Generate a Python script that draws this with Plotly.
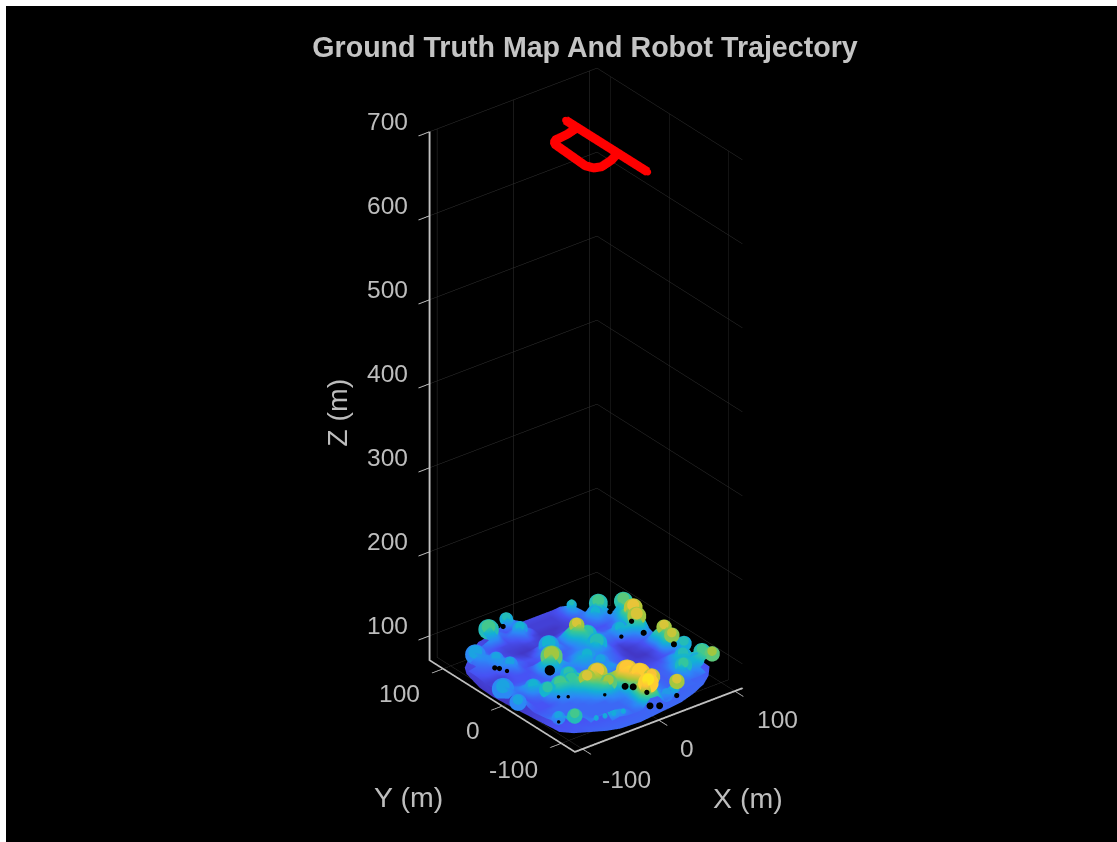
import plotly.graph_objects as go

N = None
grid_x = [-110,-100,-90,-80,-70,-60,-50,-40,-30,-20,-10,0,10,20,30,40,50,60,70,80,90,100,110]
grid_y = [120,110,100,90,80,70,60,50,40,30,20,10,0,-10,-20,-30,-40,-50,-60,-70,-80,-90,-100,-110,-120]
grid_z = [
 [N,N,N,N,N,N,N,N,78,80,90,82,77,77,77,77,77,78,N,N,N,N,N],
 [N,N,N,N,N,N,88,93,82,78,80,77,76,76,76,76,78,84,N,N,N,N,N],
 [N,N,N,N,80,80,84,85,78,82,88,82,76,76,76,76,78,88,80,N,N,N,N],
 [N,N,N,86,82,79,78,77,77,78,82,77,75,75,75,76,77,80,82,91,N,N,N],
 [N,N,80,85,83,78,77,76,76,76,77,76,75,75,76,76,77,80,88,92,84,N,N],
 [N,78,80,82,84,82,77,76,75,75,76,76,77,78,80,78,77,79,84,82,84,93,N],
 [N,78,79,80,85,84,79,77,76,78,84,82,80,90,95,86,79,78,78,80,88,92,N],
 [N,77,78,78,83,85,80,78,78,82,87,84,80,92,99,88,82,79,79,82,96,98,N],
 [N,76,76,76,78,82,78,77,78,80,80,79,80,86,92,90,82,82,86,86,96,99,N],
 [N,76,76,77,78,78,78,84,88,85,79,80,82,84,90,86,80,80,87,90,100,92,N],
 [N,78,78,78,78,78,79,91,97,90,80,84,86,83,89,84,78,76,78,82,90,82,N],
 [N,86,82,80,80,79,79,84,88,82,84,87,88,84,82,80,77,75,76,78,80,80,N],
 [N,84,81,85,86,80,79,80,82,81,82,85,85,82,81,79,76,75,76,78,92,96,N],
 [N,78,78,86,88,84,82,88,91,84,81,82,83,84,80,78,76,75,75,77,90,99,N],
 [N,85,78,80,82,90,92,92,92,88,84,82,84,85,80,78,76,76,76,78,94,92,N],
 [N,80,78,78,84,92,93,92,94,92,86,83,82,80,79,78,77,77,77,78,80,88,N],
 [N,78,78,78,80,84,86,92,100,101,94,90,84,80,79,78,78,78,79,84,84,80,N],
 [N,79,79,80,80,80,82,86,94,97,94,98,100,92,82,79,79,79,82,88,90,84,N],
 [N,80,80,80,80,80,80,82,88,96,94,103,105,96,84,80,79,80,86,88,88,92,N],
 [N,82,84,80,80,80,80,80,80,84,84,98,106,101,86,80,79,80,92,88,88,94,N],
 [N,80,86,86,81,80,80,80,80,80,82,92,100,92,82,80,79,80,84,82,84,96,N],
 [N,N,84,92,82,80,80,80,80,80,82,102,96,86,82,80,80,80,80,80,82,N,N],
 [N,N,N,N,81,86,87,87,84,80,84,108,102,84,84,96,80,80,80,N,N,N,N],
 [N,N,N,N,N,N,80,82,80,80,80,88,88,80,82,86,N,N,N,N,N,N,N],
 [N,N,N,N,N,N,N,N,N,N,N,N,N,N,N,N,N,N,N,N,N,N,N],
]

rim_x = [-94,-101,-108,-109,-107,-104,-102,-100,-90,-78,-60,-46,-20,1,38,60,80,95,108,109,108,106,106,105,100,90,82,70,59,30,0,-30,-50,-74]
rim_y = [84,72,40,17,-10,-39,-60,-84,-95,-102,-112,-117,-119,-116,-112,-105,-96,-85,-70,-50,-20,0,30,50,65,85,95,105,120,122,122,122,118,101]
rim_z = [74]*34
rim_level = [77,76,75,75,75,76,77,78,79,79,80,80,80,80,80,80,80,79,78,78,78,77,76,76,76,76,76,76,76,76,76,76,77,78]

crown_x = [61,-11,-42,-78,-10,-67,-62,-8,-30,28,35,32,82,104,96,89,97,94,103,72,71,87,105,104,72,94,-18,-32,-17,7,12,4,37,-100,-105,-75,-55,-40,-70,-33,-92,-84,-65,-55,-45,-34,9,15,27,20]
crown_y = [103,121,111,87,99,66,49,53,20,52,43,23,85,71,44,29,-7,-24,-33,77,34,-52,-78,-62,-72,-66,-42,-43,-60,-60,-75,-100,-106,12,-20,-7,-27,-27,-25,-13,-72,-89,-101,-103,-105,-107,10,-5,-101,-85]
crown_z = [90,90,93,86,88,86,86,88,97,100,91,90,93,94,101,100,100,99,90,88,88,90,97,93,92,88,101,100,97,103,104,108,100,86,86,88,93,92,91,91,86,93,87,87,87,87,88,86,85,102]
crown_size = [3.5,5,8,8,5.5,5.5,5.5,8,9,5.5,7,8,7,7,7,7,5.5,5.5,5.5,5.5,6,6,5.5,6,6,5.5,8,6,6,9,9,7,5.5,8,6,6,7,7,6,6,5,5.5,2.5,2.5,2.5,2.5,6,6,5,6]
skirt_z = [87,87,90,83,85,83,83,85,94,97,88,87,90,91,98,97,97,96,87,85,85,87,94,90,89,85,98,97,94,100,101,104,97,83,83,85,90,89,88,88,83,90,86,86,86,86,85,83,82,99]
skirt_size = [6,8,12,12,9,9,9,12,13,9,11,12,11,11,11,11,9,9,9,9,10,10,9,10,10,9,12,10,10,13,13,12,9,13,10,10,11,11,10,10,8,9,3,3,3,3,10,10,8,10]

gap_x = [-67,-109,-106,-103,78,80,75,55,86,85,-24,-18,-14,-6,2,26,-78,-70,-32,-105,-32]
gap_y = [-25,14,10,1,60,26,-1,11,-38,-103,-97,-103,-121,-116,-122,-120,-54,-60,-73,-89,99]
gap_z = [110,110,110,110,92,95,95,92,94,100,108,108,108,87,87,90,95,95,90,90,95]
gap_size = [6,3,3,2.5,3,3,3.5,2.5,3.5,2.5,4,4,3,4,4,3,2,2,2,2,3]

traj_x = [22,22,22,23,8,-9,-17,-21,-18,-13,4,22,22]
traj_y = [63,-76,-25,-25,-33,-38,-35,-26,30,36,38,43,-25]
traj_z = [695,695,695,695,695,695,695,695,695,695,695,695,695]

x_ticks = [-100,0,100]
y_ticks = [-100,0,100]
z_ticks = [100,200,300,400,500,600,700]
x_range = [-110, 110]
y_range = [-123, 123]
z_range = [71, 700]
C_MIN, C_MAX = 73, 112

parula = [[0,"#3e26a8"],[0.125,"#4752f4"],[0.25,"#2d87f7"],[0.375,"#12b1d6"],
          [0.5,"#37c897"],[0.625,"#abc739"],[0.75,"#fec338"],[1,"#f9fb15"]]

TXT = "#bdbdbd"
GRID = "#333333"
def axis(rng, ticks):
    return dict(title=dict(text=""), range=rng, tickvals=ticks, showticklabels=False,
                showgrid=True, gridcolor=GRID, gridwidth=1,
                showline=True, linecolor="#c0c0c0", linewidth=4,
                ticks="outside", ticklen=14, tickwidth=2, tickcolor="#c0c0c0",
                zeroline=False, showbackground=False, showspikes=False,
                autorange=False)

def label(x, y, z, text, dx, dy, size=24.5, angle=0):
    return dict(x=x, y=y, z=z, text=text, showarrow=False, xanchor="center", yanchor="middle",
                xshift=dx, yshift=-dy, textangle=angle,
                font=dict(family="Liberation Sans", size=size, color=TXT))

y_front, y_back = y_range[0] + 0.01, y_range[1] - 0.01
notes = []
for t, dx, dy in zip(x_ticks, [44, 28.5, 43], [30, 28, 28]):
    notes.append(label(t, y_front, z_range[0], str(t), dx, dy))
for t, dx, dy in zip(y_ticks, [-48, -29.5, -44], [26, 24, 25]):
    notes.append(label(x_range[0], t, z_range[0], str(t), dx, dy))
for t in z_ticks:
    notes.append(label(x_range[0], y_back, t, str(t), -42, -10))
notes.append(label(100, y_front, z_range[0], "X (m)", 13, 107, size=28.5))
notes.append(label(x_range[0], 100, z_range[0], "Y (m)", -35, 128, size=28.5))
notes.append(label(x_range[0], y_back, 365, "Z (m)", -92, 0, size=28.5, angle=-90))

FLAT = dict(ambient=1, diffuse=0, specular=0, roughness=1, fresnel=0)
fig = go.Figure()
fig.add_trace(go.Mesh3d(x=rim_x, y=rim_y, z=rim_z, intensity=rim_level, delaunayaxis="z",
                        colorscale=parula, cmin=C_MIN, cmax=C_MAX, showscale=False, lighting=FLAT))
fig.add_trace(go.Surface(x=grid_x, y=grid_y, z=grid_z, cmin=C_MIN, cmax=C_MAX,
                         colorscale=parula, showscale=False, connectgaps=False, lighting=FLAT))
fig.add_trace(go.Scatter3d(x=crown_x, y=crown_y, z=skirt_z, mode="markers",
                           marker=dict(size=skirt_size, sizeref=0.5, sizemode="diameter", opacity=1,
                                       color=skirt_z, colorscale=parula,
                                       cmin=C_MIN, cmax=C_MAX, line=dict(width=0)), showlegend=False))
fig.add_trace(go.Scatter3d(x=crown_x, y=crown_y, z=crown_z, mode="markers",
                           marker=dict(size=crown_size, sizeref=0.5, sizemode="diameter", opacity=1,
                                       color=crown_z, colorscale=parula,
                                       cmin=C_MIN, cmax=C_MAX, line=dict(width=0)), showlegend=False))
fig.add_trace(go.Scatter3d(x=gap_x, y=gap_y, z=gap_z, mode="markers",
                           marker=dict(size=gap_size, sizeref=0.5, sizemode="diameter", opacity=1,
                                       color="#000000", line=dict(width=0)), showlegend=False))
fig.add_trace(go.Scatter3d(x=traj_x, y=traj_y, z=traj_z, mode="lines+markers",
                           line=dict(color="#ff0000", width=18),
                           marker=dict(size=4, color="#ff0000", opacity=1, line=dict(width=0)), showlegend=False))

d = 2.0
cx, cy, cz = -0.0563, 0.0229, -0.0292
fig.update_layout(
    width=1117, height=842, margin=dict(l=0, r=0, t=0, b=0),
    paper_bgcolor="#ffffff", showlegend=False,
    title=dict(text="<b>Ground Truth Map And Robot Trajectory</b>", x=585/1117, xanchor="center",
               y=1-47/842, yanchor="middle",
               font=dict(family="Liberation Sans", size=28.6, color="#c4c4c4")),
    scene=dict(
        domain=dict(x=[6/1117, 1], y=[0, 836/842]),
        bgcolor="#000000",
        xaxis=axis(x_range, x_ticks),
        yaxis=axis(y_range, y_ticks),
        zaxis=axis(z_range, z_ticks),
        aspectmode="manual",
        aspectratio=dict(x=212/606*1.45, y=237/606*1.45, z=1.45),
        annotations=notes,
        camera=dict(projection=dict(type="orthographic"),
                    eye=dict(x=cx-0.535*d, y=cy-0.689*d, z=cz+0.49*d),
                    center=dict(x=cx, y=cy, z=cz), up=dict(x=0, y=0, z=1)),
    ),
)
fig.write_html("out.html", post_script="document.body.style.margin='0';",
               config=dict(displayModeBar=False))
